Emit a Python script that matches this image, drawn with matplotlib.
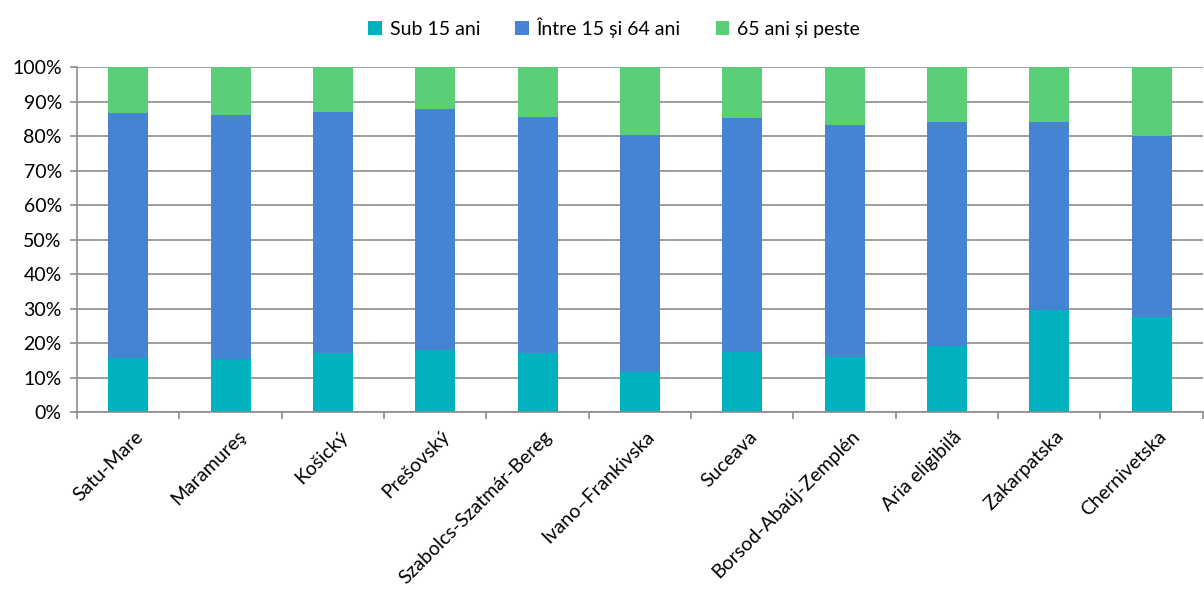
import matplotlib.pyplot as plt
import matplotlib.transforms as mtransforms
import numpy as np
from matplotlib.ticker import PercentFormatter

plt.rcParams['font.family'] = ['Lato', 'DejaVu Sans']

TEAL = "#00B2BF"
BLUE = "#4584D3"
GREEN = "#5BCF78"
GRID = "#8C8C8C"

regions = ["Satu-Mare", "Maramureş", "Košický", "Prešovský", "Szabolcs-Szatmár-Bereg",
           "Ivano\u2013Frankivska", "Suceava", "Borsod-Abaúj-Zemplén", "Aria eligibilă",
           "Zakarpatska", "Chernivetska"]
sub15 = [15.8, 15.4, 17.3, 18.0, 17.3, 11.7, 17.6, 16.1, 19.2, 29.6, 27.6]
age15_64 = [71.0, 70.7, 69.8, 69.8, 68.3, 68.7, 67.7, 67.3, 65.0, 54.6, 52.4]
age65 = [13.2, 13.9, 12.9, 12.2, 14.4, 19.6, 14.7, 16.6, 15.8, 15.8, 20.0]
series_names = ["Sub 15 ani", "Între 15 și 64 ani", "65 ani și peste"]

fig = plt.figure(figsize=(12.04, 5.9), dpi=100)
ax = fig.add_axes([0.064, 0.301, 0.935, 0.585])

x = np.arange(len(regions))
w = 0.39
b1 = np.array(sub15)
b2 = b1 + np.array(age15_64)
ax.bar(x, sub15, w, color=TEAL, label=series_names[0], zorder=2)
ax.bar(x, age15_64, w, bottom=b1, color=BLUE, label=series_names[1], zorder=2)
ax.bar(x, age65, w, bottom=b2, color=GREEN, label=series_names[2], zorder=2)

ax.set_xlim(-0.5, len(regions) - 0.5)
ax.set_ylim(0, 100)
ax.set_yticks(np.arange(0, 101, 10))
ax.yaxis.set_major_formatter(PercentFormatter(decimals=0))
ax.grid(axis='y', color=GRID, linewidth=1.2, zorder=0)

# excel-style ticks between categories
ax.set_xticks(np.arange(-0.5, len(regions), 1.0))
ax.set_xticklabels([])
ax.set_xticks(x, minor=True)
ax.set_xticklabels(regions, minor=True, rotation=45, ha='right', rotation_mode='anchor', fontsize=14)
ax.tick_params(axis='x', which='minor', length=0, pad=11)
ax.tick_params(axis='x', which='major', length=5, color=GRID, width=1.2)
ax.tick_params(axis='y', length=5, color=GRID, width=1.2, labelsize=14, pad=6)

shift = mtransforms.ScaledTranslation(6 / 100, 0, fig.dpi_scale_trans)
for lbl in ax.get_xticklabels(minor=True):
    lbl.set_transform(lbl.get_transform() + shift)

for s in ['top', 'right']:
    ax.spines[s].set_visible(False)
for s in ['left', 'bottom']:
    ax.spines[s].set_color(GRID)
    ax.spines[s].set_linewidth(1.2)

fig.legend(loc='upper center', bbox_to_anchor=(0.51, 1.0), ncol=3, frameon=False,
           fontsize=14, handlelength=0.7, handleheight=0.7, handletextpad=0.4, columnspacing=1.8)

fig.savefig("out.png", dpi=100)
